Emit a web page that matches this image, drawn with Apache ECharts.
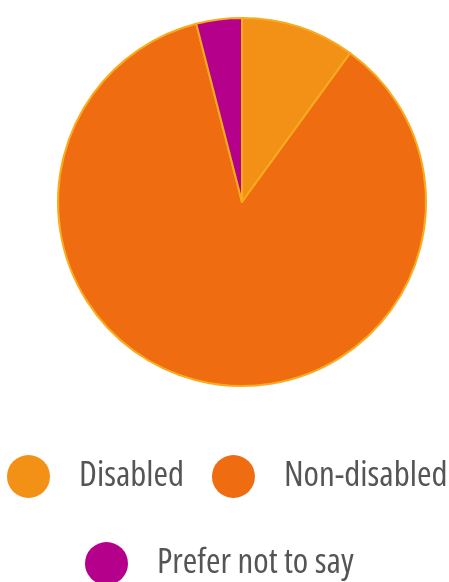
<!DOCTYPE html>
<html>
<head>
<meta charset="utf-8">
<style>
  html, body { margin: 0; padding: 0; background: #ffffff; }
  #chart { width: 449px; height: 582px; }
</style>
<script src="https://cdn.jsdelivr.net/npm/echarts@6/dist/echarts.min.js"></script>
</head>
<body>
<div id="chart"></div>
<script>
// Share of respondents by disability status (percent)
const categories = ['Disabled', 'Non-disabled', 'Prefer not to say'];
const values = [10, 86, 4];
const colors = ['#f39016', '#ef6c11', '#b4008a'];

const chart = echarts.init(document.getElementById('chart'), null, { renderer: 'canvas' });

// Narrow humanist face for the legend labels ("condensed" goes into the canvas font string)
const legendText = {
  fontFamily: '"Open Sans", sans-serif',
  fontWeight: 'condensed',
  fontSize: 35,
  color: '#555555',
  padding: [0, 0, 10, 24]
};

const legendBase = {
  icon: 'circle',
  itemWidth: 43,
  itemHeight: 43,
  itemGap: 28,
  width: 449,
  padding: 0,
  selectedMode: false,
  itemStyle: { borderWidth: 0 },
  textStyle: legendText
};

chart.setOption({
  animation: false,
  color: colors,
  legend: [
    Object.assign({}, legendBase, { data: categories.slice(0, 2), left: 7, top: 455 }),
    Object.assign({}, legendBase, { data: categories.slice(2), left: 85, top: 542 })
  ],
  series: [
    {
      type: 'pie',
      center: [242, 202],
      radius: 184,
      startAngle: 90,
      clockwise: true,
      label: { show: false },
      labelLine: { show: false },
      emphasis: { disabled: true },
      itemStyle: { borderColor: '#f9ab1e', borderWidth: 2 },
      data: categories.map((name, i) => ({ name: name, value: values[i] }))
    }
  ]
});
</script>
</body>
</html>
